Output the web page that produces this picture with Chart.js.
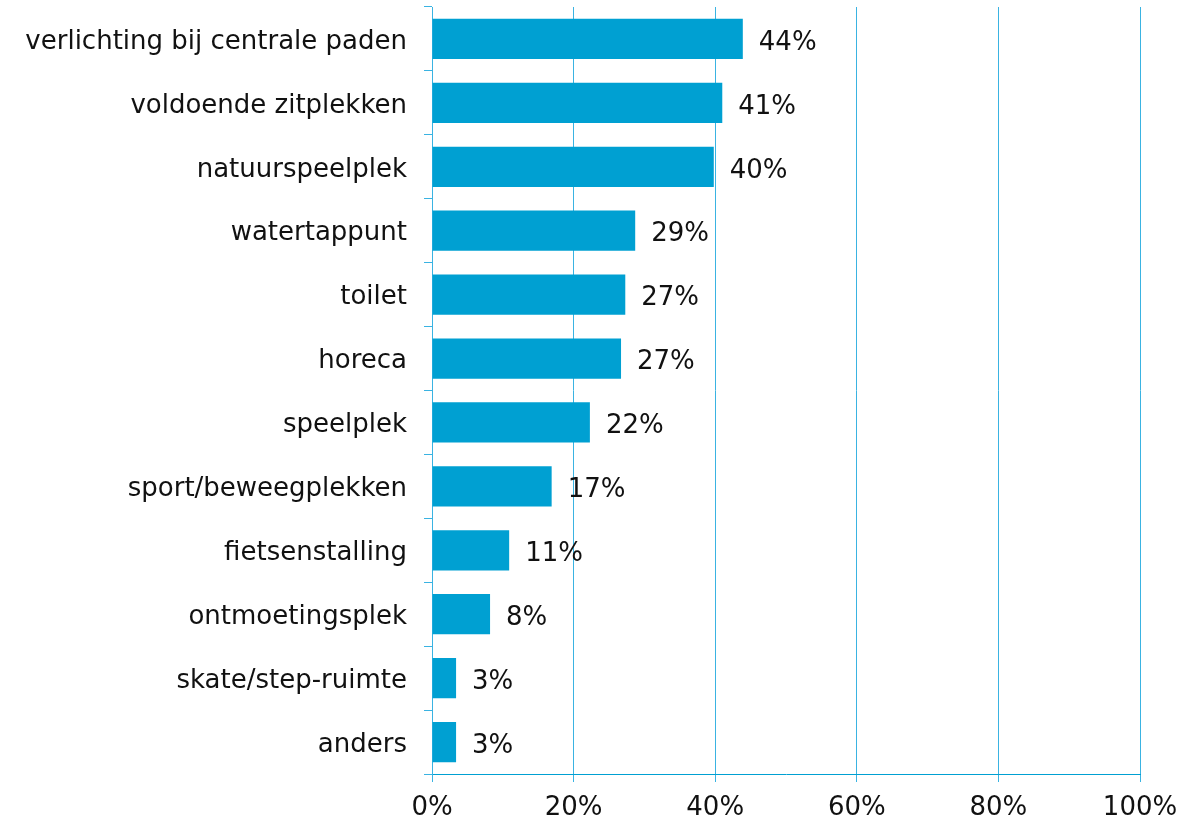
<!DOCTYPE html>
<html>
<head>
<meta charset="utf-8">
<script src="https://cdn.jsdelivr.net/npm/chart.js@4/dist/chart.umd.min.js"></script>
<style>
  html, body { margin: 0; padding: 0; background: #ffffff; }
  #wrap { width: 1198px; height: 824px; position: relative; }
</style>
</head>
<body>
<div id="wrap"><canvas id="c" width="1198" height="824"></canvas></div>
<script>
const categories = [
  'verlichting bij centrale paden',
  'voldoende zitplekken',
  'natuurspeelplek',
  'watertappunt',
  'toilet',
  'horeca',
  'speelplek',
  'sport/beweegplekken',
  'fietsenstalling',
  'ontmoetingsplek',
  'skate/step-ruimte',
  'anders'
];
const values = [43.9, 41.0, 39.8, 28.7, 27.3, 26.7, 22.3, 16.9, 10.9, 8.2, 3.4, 3.4];
const valueLabels = ['44%', '41%', '40%', '29%', '27%', '27%', '22%', '17%', '11%', '8%', '3%', '3%'];
const xTicks = [0, 20, 40, 60, 80, 100];

const FONT = "'DejaVu Sans', Verdana, sans-serif";
const FS = 26;
const BAR = '#00A0D2';
const GRID = '#3AB3E2';

const valueLabelPlugin = {
  id: 'valueLabels',
  afterDatasetsDraw(chart) {
    const ctx = chart.ctx;
    const meta = chart.getDatasetMeta(0);
    ctx.save();
    ctx.font = FS + 'px ' + FONT;
    ctx.fillStyle = '#111111';
    ctx.textAlign = 'left';
    ctx.textBaseline = 'middle';
    meta.data.forEach((bar, i) => {
      ctx.fillText(valueLabels[i], bar.x + 16, bar.y + 4);
    });
    ctx.restore();
  }
};

new Chart(document.getElementById('c'), {
  type: 'bar',
  data: {
    labels: categories,
    datasets: [{
      data: values,
      backgroundColor: BAR,
      borderWidth: 0,
      barPercentage: 0.63,
      categoryPercentage: 1.0
    }]
  },
  options: {
    indexAxis: 'y',
    responsive: false,
    animation: false,
    devicePixelRatio: 1,
    layout: { padding: { left: 0, right: 58, top: 7, bottom: 0 } },
    plugins: { legend: { display: false }, tooltip: { enabled: false } },
    scales: {
      x: {
        min: 0, max: 100,
        afterBuildTicks(scale) { scale.ticks = xTicks.map(v => ({ value: v })); },
        afterFit(scale) { scale.height = 50; scale.paddingLeft = 0; scale.paddingRight = 0; },
        ticks: {
          callback: v => v + '%',
          font: { family: FONT, size: FS },
          color: '#111111',
          padding: 11,
          maxRotation: 0
        },
        grid: { color: GRID, lineWidth: 1, tickLength: 8, drawTicks: true },
        border: { display: true, color: BAR, width: 1 }
      },
      y: {
        offset: true,
        afterFit(scale) { scale.width = 432; scale.paddingTop = 0; scale.paddingBottom = 0; },
        ticks: {
          font: { family: FONT, size: FS },
          color: '#111111',
          padding: 17,
          labelOffset: 3
        },
        grid: { offset: true, drawOnChartArea: false, drawTicks: true, tickLength: 8, color: GRID },
        border: { display: true, color: GRID, width: 1 }
      }
    }
  },
  plugins: [valueLabelPlugin]
});
</script>
</body>
</html>
